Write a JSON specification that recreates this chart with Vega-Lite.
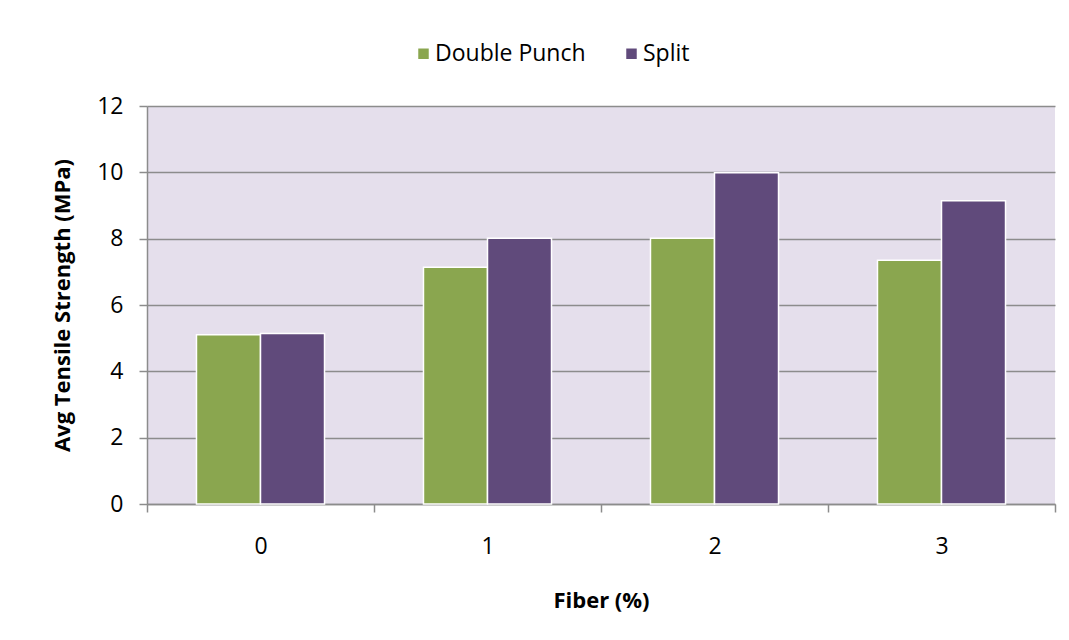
{
  "$schema": "https://vega.github.io/schema/vega-lite/v6.json",
  "width": 908,
  "height": 398,
  "autosize": {"type": "none"},
  "padding": {"left": 147, "top": 106, "right": 14, "bottom": 136},
  "background": "white",
  "data": {
    "values": [
      {"fiber": "0", "test": "Double Punch", "strength": 5.10},
      {"fiber": "0", "test": "Split", "strength": 5.14},
      {"fiber": "1", "test": "Double Punch", "strength": 7.14},
      {"fiber": "1", "test": "Split", "strength": 8.01},
      {"fiber": "2", "test": "Double Punch", "strength": 8.01},
      {"fiber": "2", "test": "Split", "strength": 9.99},
      {"fiber": "3", "test": "Double Punch", "strength": 7.35},
      {"fiber": "3", "test": "Split", "strength": 9.14}
    ]
  },
  "mark": {"type": "bar", "stroke": "white", "strokeWidth": 1.5},
  "encoding": {
    "x": {
      "field": "fiber",
      "type": "nominal",
      "sort": null,
      "title": "Fiber (%)",
      "scale": {"paddingInner": 0, "paddingOuter": 0},
      "axis": {
        "labelAngle": 0,
        "tickBand": "extent",
        "domainColor": "#8c8c8c",
        "domainWidth": 1.5,
        "tickColor": "#8c8c8c",
        "tickWidth": 1.5,
        "tickSize": 8,
        "labelPadding": 23,
        "labelFont": "Open Sans",
        "labelFontSize": 23,
        "labelColor": "black",
        "titleFont": "Open Sans",
        "titleFontSize": 22,
        "titleFontWeight": "bold",
        "titleColor": "black",
        "titlePadding": 32,
        "grid": false
      }
    },
    "xOffset": {"field": "test", "type": "nominal", "scale": {"paddingInner": 0, "paddingOuter": 0.773}},
    "y": {
      "field": "strength",
      "type": "quantitative",
      "title": "Avg Tensile Strength (MPa)",
      "scale": {"domain": [0, 12], "nice": false},
      "axis": {
        "values": [0, 2, 4, 6, 8, 10, 12],
        "grid": true,
        "gridColor": "#8c8c8c",
        "gridWidth": 1.5,
        "domainColor": "#8c8c8c",
        "domainWidth": 1.5,
        "tickColor": "#8c8c8c",
        "tickWidth": 1.5,
        "tickSize": 8,
        "labelPadding": 16,
        "labelFont": "Open Sans",
        "labelFontSize": 23,
        "labelColor": "black",
        "titleFont": "Open Sans",
        "titleFontSize": 22,
        "titleFontWeight": "bold",
        "titleColor": "black",
        "titlePadding": 22
      }
    },
    "color": {
      "field": "test",
      "type": "nominal",
      "title": null,
      "scale": {"domain": ["Double Punch", "Split"], "range": ["#8aa64f", "#604a7b"]},
      "legend": {
        "orient": "none",
        "direction": "horizontal",
        "legendX": 265,
        "legendY": -64,
        "symbolType": "square",
        "symbolSize": 110,
        "symbolStrokeWidth": 0,
        "labelFont": "Open Sans",
        "labelFontSize": 23,
        "labelColor": "black",
        "labelOffset": 0,
        "columnPadding": 34
      }
    }
  },
  "config": {
    "view": {"fill": "#e5dfec", "stroke": null}
  }
}
